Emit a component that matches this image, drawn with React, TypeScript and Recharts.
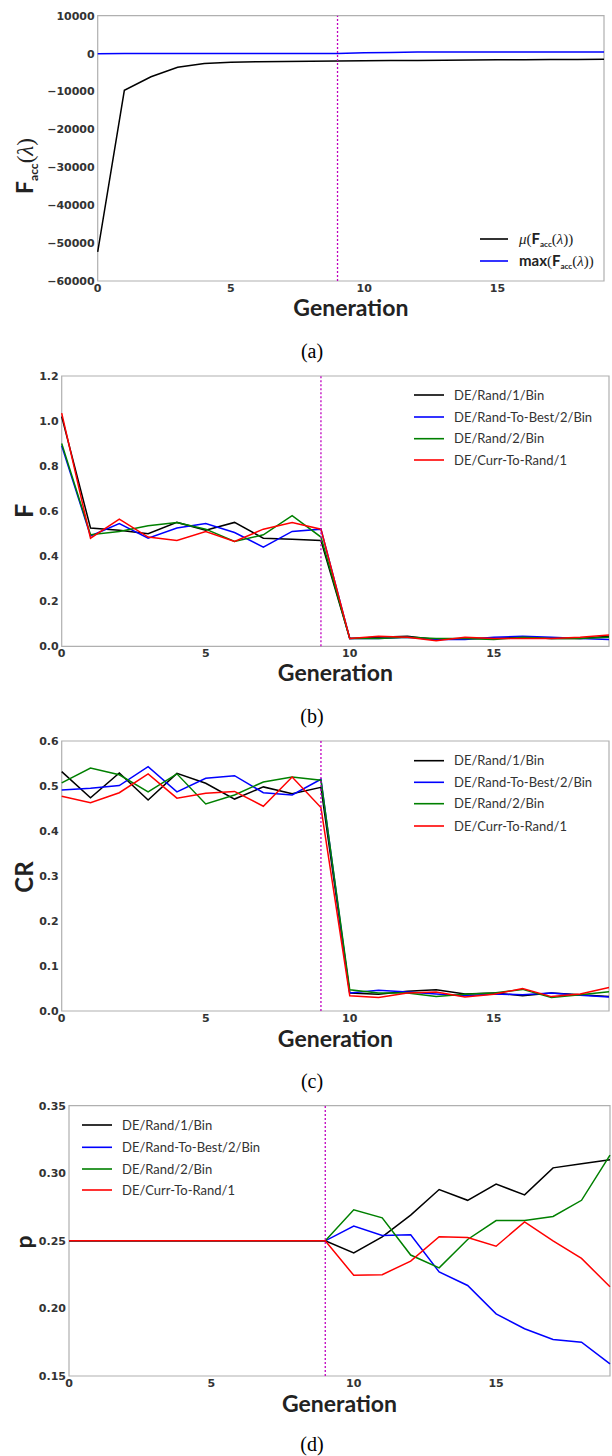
import React from 'react';
import { LineChart, Line, XAxis, YAxis, ReferenceLine, ReferenceArea } from 'recharts';

// generations on the x axis
const GENERATIONS = [0, 1, 2, 3, 4, 5, 6, 7, 8, 9, 10, 11, 12, 13, 14, 15, 16, 17, 18, 19];
const X_TICKS = [0, 5, 10, 15];
const SWITCH_GEN = 9;

const DE_NAMES = ['DE/Rand/1/Bin', 'DE/Rand-To-Best/2/Bin', 'DE/Rand/2/Bin', 'DE/Curr-To-Rand/1'];
const DE_COLORS = ['#000000', '#0000ff', '#008000', '#ff0000'];

// (a) accumulated fitness
const FACC_MEAN = [-52300, -9700, -6100, -3600, -2600, -2300, -2150, -2080, -2000, -1950, -1900, -1850, -1800, -1750, -1700, -1650, -1600, -1580, -1550, -1500];
const FACC_MAX = [-20, 0, 0, 0, 0, 0, 0, 0, 0, 0, 250, 280, 420, 430, 440, 440, 450, 450, 450, 450];
const FACC_TICKS = [-60000, -50000, -40000, -30000, -20000, -10000, 0, 10000];

// (b) F
const F_RAND1 = [1.02, 0.525, 0.515, 0.5, 0.55, 0.515, 0.55, 0.48, 0.475, 0.47, 0.035, 0.04, 0.045, 0.03, 0.035, 0.035, 0.04, 0.035, 0.035, 0.045];
const F_RTB2 = [0.89, 0.49, 0.545, 0.48, 0.525, 0.545, 0.505, 0.44, 0.51, 0.52, 0.035, 0.035, 0.04, 0.03, 0.03, 0.04, 0.045, 0.04, 0.035, 0.03];
const F_RAND2 = [0.9, 0.495, 0.51, 0.535, 0.55, 0.52, 0.465, 0.495, 0.58, 0.485, 0.035, 0.035, 0.04, 0.035, 0.035, 0.03, 0.04, 0.035, 0.035, 0.04];
const F_CTR1 = [1.035, 0.48, 0.565, 0.485, 0.47, 0.51, 0.465, 0.52, 0.55, 0.52, 0.035, 0.045, 0.04, 0.025, 0.04, 0.035, 0.035, 0.035, 0.04, 0.05];
const F_TICKS = [0, 0.2, 0.4, 0.6, 0.8, 1.0, 1.2];

// (c) CR
const CR_RAND1 = [0.532, 0.474, 0.529, 0.469, 0.528, 0.506, 0.471, 0.498, 0.483, 0.497, 0.04, 0.037, 0.044, 0.047, 0.038, 0.04, 0.034, 0.04, 0.036, 0.032];
const CR_RTB2 = [0.491, 0.495, 0.501, 0.543, 0.487, 0.517, 0.523, 0.485, 0.48, 0.515, 0.04, 0.046, 0.042, 0.038, 0.034, 0.038, 0.036, 0.04, 0.035, 0.031];
const CR_RAND2 = [0.507, 0.54, 0.525, 0.487, 0.527, 0.46, 0.48, 0.509, 0.52, 0.513, 0.047, 0.04, 0.04, 0.032, 0.037, 0.04, 0.048, 0.03, 0.036, 0.043];
const CR_CTR1 = [0.477, 0.463, 0.485, 0.527, 0.473, 0.484, 0.488, 0.455, 0.52, 0.452, 0.034, 0.03, 0.04, 0.042, 0.031, 0.037, 0.05, 0.032, 0.038, 0.052];
const CR_TICKS = [0, 0.1, 0.2, 0.3, 0.4, 0.5, 0.6];

// (d) p
const P_RAND1 = [0.25, 0.25, 0.25, 0.25, 0.25, 0.25, 0.25, 0.25, 0.25, 0.25, 0.241, 0.253, 0.269, 0.288, 0.28, 0.292, 0.284, 0.304, 0.307, 0.31];
const P_RTB2 = [0.25, 0.25, 0.25, 0.25, 0.25, 0.25, 0.25, 0.25, 0.25, 0.25, 0.261, 0.254, 0.2545, 0.227, 0.217, 0.196, 0.185, 0.177, 0.175, 0.159];
const P_RAND2 = [0.25, 0.25, 0.25, 0.25, 0.25, 0.25, 0.25, 0.25, 0.25, 0.25, 0.273, 0.267, 0.2395, 0.23, 0.251, 0.265, 0.265, 0.268, 0.28, 0.3135];
const P_CTR1 = [0.25, 0.25, 0.25, 0.25, 0.25, 0.25, 0.25, 0.25, 0.25, 0.25, 0.2245, 0.225, 0.235, 0.253, 0.2525, 0.246, 0.264, 0.25, 0.237, 0.216];
const P_TICKS = [0.15, 0.2, 0.25, 0.3, 0.35];

const W = 612;
const H = 1456;
const FRAME = '#b0b0b0';
const TICK_FONT = { fontFamily: 'DejaVu Sans', fontWeight: 700, fontSize: 11, fill: '#333' };
const LABEL_FONT = 'Lato';
const LEGEND_FONT = { fontFamily: 'Lato', fontSize: 13, fill: '#333' };

const toRows = (series: number[][]) =>
  GENERATIONS.map((g, i) => {
    const row: Record<string, number> = { gen: g };
    series.forEach((s, k) => (row['s' + k] = s[i]));
    return row;
  });

const minus = (v: number) => (v < 0 ? '\u2212' + Math.abs(v) : String(v));

type PanelCfg = {
  chartTop: number;
  plotTop: number;
  plotBottom: number;
  plotLeft: number;
  plotRight: number;
  series: number[][];
  colors: string[];
  ticks: number[];
  fmt: (v: number) => string;
};

const panels: PanelCfg[] = [
  { chartTop: 0, plotTop: 15.7, plotBottom: 281, plotLeft: 97.7, plotRight: 604, series: [FACC_MEAN, FACC_MAX], colors: ['#000000', '#0000ff'], ticks: FACC_TICKS, fmt: minus },
  { chartTop: 360, plotTop: 376, plotBottom: 646.3, plotLeft: 61.7, plotRight: 609, series: [F_RAND1, F_RTB2, F_RAND2, F_CTR1], colors: DE_COLORS, ticks: F_TICKS, fmt: v => v.toFixed(1) },
  { chartTop: 725, plotTop: 741, plotBottom: 1011, plotLeft: 61.7, plotRight: 609, series: [CR_RAND1, CR_RTB2, CR_RAND2, CR_CTR1], colors: DE_COLORS, ticks: CR_TICKS, fmt: v => v.toFixed(1) },
  { chartTop: 1090, plotTop: 1105.7, plotBottom: 1376, plotLeft: 69, plotRight: 610, series: [P_RAND1, P_RTB2, P_RAND2, P_CTR1], colors: DE_COLORS, ticks: P_TICKS, fmt: v => v.toFixed(2) },
];

function Panel({ cfg }: { cfg: PanelCfg }) {
  const h = cfg.plotBottom - cfg.chartTop + 18;
  const yMin = cfg.ticks[0];
  const yMax = cfg.ticks[cfg.ticks.length - 1];
  return (
    <div style={{ position: 'absolute', left: 0, top: cfg.chartTop }}>
      <LineChart
        width={W}
        height={h}
        data={toRows(cfg.series)}
        margin={{ top: cfg.plotTop - cfg.chartTop, right: W - cfg.plotRight, left: 0, bottom: 0 }}
      >
        <XAxis
          dataKey="gen"
          type="number"
          domain={[0, 19]}
          ticks={X_TICKS}
          interval={0}
          height={18}
          axisLine={false}
          tickLine={false}
          tickSize={0}
          tickMargin={3}
          tick={TICK_FONT}
        />
        <YAxis
          type="number"
          domain={[yMin, yMax]}
          ticks={cfg.ticks}
          interval={0}
          width={cfg.plotLeft}
          axisLine={false}
          tickLine={false}
          tickSize={0}
          tickMargin={3}
          tick={TICK_FONT}
          tickFormatter={cfg.fmt}
          allowDataOverflow
        />
        <ReferenceArea x1={0} x2={19} y1={yMin} y2={yMax} fill="none" stroke={FRAME} strokeWidth={1.2} ifOverflow="visible" />
        {cfg.series.map((_, k) => (
          <Line
            key={k}
            type="linear"
            dataKey={'s' + k}
            stroke={cfg.colors[k]}
            strokeWidth={1.5}
            dot={false}
            isAnimationActive={false}
          />
        ))}
        <ReferenceLine x={SWITCH_GEN} stroke="#bf00bf" strokeWidth={1.3} strokeDasharray="2 2" />
      </LineChart>
    </div>
  );
}

function FaccLabel({ size, sub }: { size: number; sub: number }) {
  return (
    <>
      <tspan fontFamily={LABEL_FONT} fontWeight={700} fontSize={size}>F</tspan>
      <tspan fontFamily={LABEL_FONT} fontWeight={700} fontSize={sub} dy={size * 0.22}>acc</tspan>
      <tspan fontFamily="Liberation Serif" fontSize={size} dy={-size * 0.22}>(</tspan>
      <tspan fontFamily="Liberation Serif" fontStyle="italic" fontSize={size}>λ</tspan>
      <tspan fontFamily="Liberation Serif" fontSize={size}>)</tspan>
    </>
  );
}

function DeLegend({ x, ys }: { x: number; ys: number[] }) {
  return (
    <g>
      {DE_NAMES.map((n, i) => (
        <g key={n}>
          <line x1={x} x2={x + 30} y1={ys[i]} y2={ys[i]} stroke={DE_COLORS[i]} strokeWidth={1.6} />
          <text x={x + 40} y={ys[i] + 4.6} {...LEGEND_FONT}>{n}</text>
        </g>
      ))}
    </g>
  );
}

function Overlay() {
  const gen = (p: PanelCfg) => (p.plotLeft + p.plotRight) / 2;
  const genText = { fontFamily: LABEL_FONT, fontWeight: 700, fontSize: 23, fill: '#222', textAnchor: 'middle' as const };
  const capText = { fontFamily: 'Liberation Serif', fontSize: 20, fill: '#000', textAnchor: 'middle' as const };
  const [a, b, c, d] = panels;
  return (
    <svg width={W} height={H} style={{ position: 'absolute', left: 0, top: 0, pointerEvents: 'none' }}>
      {/* y labels */}
      <text transform="translate(33,166) rotate(-90)" textAnchor="middle" fill="#222">
        <FaccLabel size={23} sub={12} />
      </text>
      <text transform="translate(33,511) rotate(-90)" textAnchor="middle" fill="#222" fontFamily={LABEL_FONT} fontWeight={700} fontSize={25}>F</text>
      <text transform="translate(33,877) rotate(-90)" textAnchor="middle" fill="#222" fontFamily={LABEL_FONT} fontWeight={700} fontSize={24}>CR</text>
      <text transform="translate(32,1242) rotate(-90)" textAnchor="middle" fill="#222" fontFamily={LABEL_FONT} fontWeight={700} fontSize={23}>p</text>

      {/* x labels */}
      <text x={gen(a)} y={316} {...genText}>Generation</text>
      <text x={gen(b)} y={681} {...genText}>Generation</text>
      <text x={gen(c)} y={1047} {...genText}>Generation</text>
      <text x={gen(d)} y={1412} {...genText}>Generation</text>

      {/* captions */}
      <text x={312} y={358} {...capText}>(a)</text>
      <text x={312} y={723} {...capText}>(b)</text>
      <text x={312} y={1088} {...capText}>(c)</text>
      <text x={312} y={1451} {...capText}>(d)</text>

      {/* legend (a) */}
      <line x1={480} x2={508} y1={239} y2={239} stroke="#000" strokeWidth={1.6} />
      <text x={519} y={244} fill="#222" fontSize={15}>
        <tspan fontFamily="Liberation Serif" fontStyle="italic">μ</tspan>
        <tspan fontFamily="Liberation Serif">(</tspan>
        <FaccLabel size={15} sub={8} />
        <tspan fontFamily="Liberation Serif">)</tspan>
      </text>
      <line x1={480} x2={508} y1={261} y2={261} stroke="#0000ff" strokeWidth={1.6} />
      <text x={519} y={266} fill="#222" fontSize={15}>
        <tspan fontFamily={LABEL_FONT} fontWeight={700}>max</tspan>
        <tspan fontFamily="Liberation Serif">(</tspan>
        <FaccLabel size={15} sub={8} />
        <tspan fontFamily="Liberation Serif">)</tspan>
      </text>

      <DeLegend x={414} ys={[395, 417, 438.7, 460]} />
      <DeLegend x={414} ys={[760.7, 782.3, 803.7, 826]} />
      <DeLegend x={82} ys={[1125, 1147.3, 1169, 1190]} />
    </svg>
  );
}

export default function App() {
  return (
    <div style={{ position: 'absolute', left: 0, top: 0, width: W, height: H, background: '#fff' }}>
      {panels.map((p, i) => (
        <Panel key={i} cfg={p} />
      ))}
      <Overlay />
    </div>
  );
}
